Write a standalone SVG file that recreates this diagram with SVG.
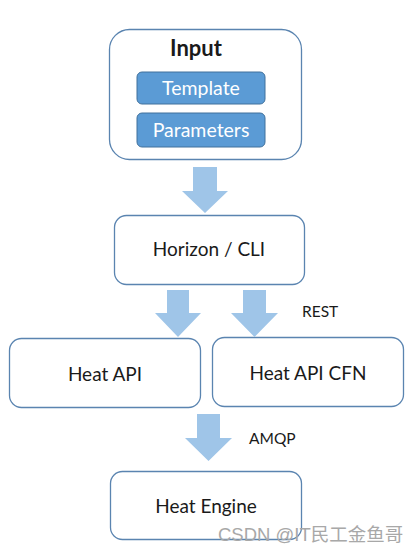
<svg xmlns="http://www.w3.org/2000/svg" width="420" height="552" viewBox="0 0 420 552">
<style>
.box{fill:#fff;stroke:#5a84b0;stroke-width:1.3}
.inner{fill:#5b9bd5;stroke:#41719c;stroke-width:1}
.t{font-family:Lato,"Open Sans",sans-serif;font-size:19px;fill:#1a1a1a;text-anchor:middle}
.w{font-family:Lato,"Open Sans",sans-serif;font-size:19.5px;fill:#fff;text-anchor:middle}
.lbl{font-family:Lato,"Open Sans",sans-serif;font-size:15.5px;fill:#1a1a1a}
.arr{fill:#9fc5e8}
</style>
<rect width="420" height="552" fill="#fff"/>
<g id="input">
<rect class="box" x="109.5" y="29.5" width="192" height="130" rx="20"/>
<text x="196" y="56" class="t" style="font-weight:bold;font-size:22px">Input</text>
<g id="template"><rect class="inner" x="137" y="72" width="128" height="32" rx="5"/>
<text x="201" y="95" class="w">Template</text></g>
<g id="parameters"><rect class="inner" x="137" y="113" width="128" height="34" rx="5"/>
<text x="201" y="137" class="w">Parameters</text></g>
</g>
<g id="horizon">
<rect class="box" x="114.5" y="215.5" width="190" height="69" rx="12"/>
<text x="209" y="256" class="t">Horizon / CLI</text>
</g>
<g id="heatapi">
<rect class="box" x="9.5" y="338.5" width="191" height="69" rx="12"/>
<text x="105" y="381" class="t">Heat API</text>
</g>
<g id="heatapicfn">
<rect class="box" x="212.5" y="337.5" width="191" height="69" rx="12"/>
<text x="308" y="380" class="t">Heat API CFN</text>
</g>
<g id="heatengine">
<rect class="box" x="110.5" y="471.5" width="191" height="68" rx="12"/>
<text x="206" y="513" class="t">Heat Engine</text>
</g>
<g id="connectors">
<polygon class="arr" points="193,167 217,167 217,191 228,191 205,213 182,191 193,191"/>
<polygon class="arr" points="167,290 189,290 189,313 201,313 178,337 155,313 167,313"/>
<polygon class="arr" points="243,290 266,290 266,313 278,313 254.5,337 231,313 243,313"/>
<polygon class="arr" points="197,414 220,414 220,438 232,438 208.5,461 185,438 197,438"/>
<text x="302" y="317" class="lbl">REST</text>
<text x="249" y="444" class="lbl">AMQP</text>
</g>
<text x="218" y="541" style="font-family:'Liberation Sans','Noto Sans CJK SC',sans-serif;font-size:18.5px;fill:#a8a8a8">CSDN @IT民工金鱼哥</text>
</svg>
